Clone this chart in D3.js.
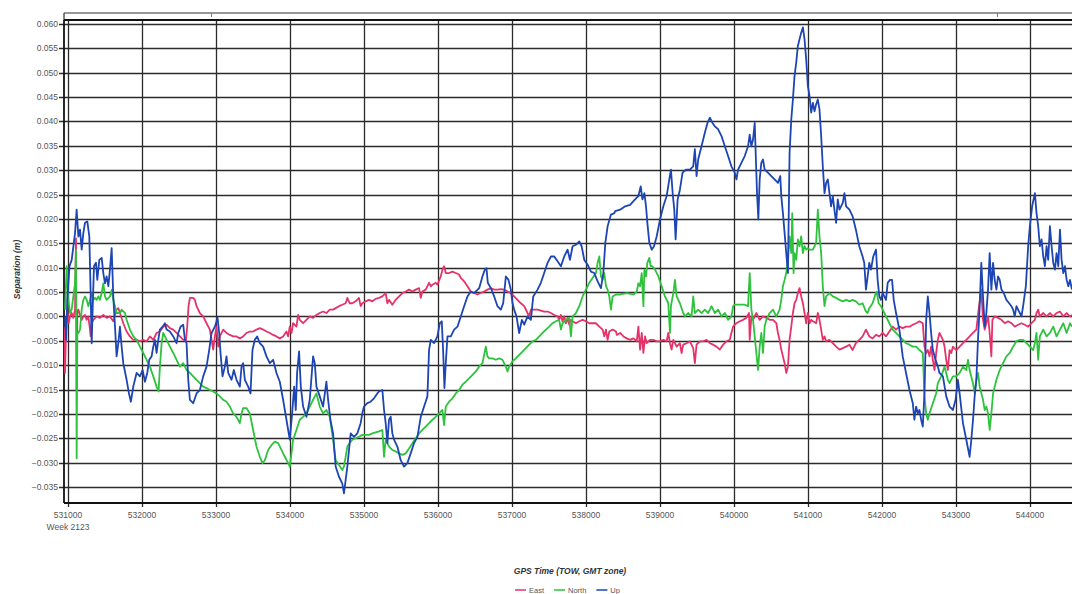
<!DOCTYPE html>
<html>
<head>
<meta charset="utf-8">
<script src="https://cdn.jsdelivr.net/npm/d3@7"></script>
<style>
  html, body { margin: 0; padding: 0; background: #ffffff; }
  svg { display: block; font-family: "Liberation Sans", Arial, sans-serif; }
</style>
</head>
<body>
<svg id="chart" width="1072" height="594"></svg>
<script>
// GPS baseline separation (m) over GPS time of week, week 2123

const xTickValues = [531000, 532000, 533000, 534000, 535000, 536000, 537000,
                     538000, 539000, 540000, 541000, 542000, 543000, 544000];
const yTickValues = [0.060, 0.055, 0.050, 0.045, 0.040, 0.035, 0.030, 0.025, 0.020,
                     0.015, 0.010, 0.005, 0.000, -0.005, -0.010, -0.015, -0.020,
                     -0.025, -0.030, -0.035];
const weekLabel = "Week 2123";
const xTitle = "GPS Time (TOW, GMT zone)";
const yTitle = "Separation (m)";
const seriesNames = ["East", "North", "Up"];

// [time of week (s), separation (m)]
const eastSeries = [
  [530946,-0.0021],[530960,-0.0116],[530973,-0.0034],[530991,0.0014],[531009,-0.0014],[531027,0.0000],[531050,0.0007],[531072,-0.0003],[531095,0.0014],[531108,0.0160],[531117,-0.0151],[531126,0.0007],[531140,0.0014],[531162,0.0003],[531185,-0.0007],[531207,0.0000],[531230,0.0003],[531252,-0.0007],[531275,0.0000],[531297,-0.0027],[531306,-0.0041],[531320,-0.0014],[531342,-0.0007],[531387,0.0000],[531432,-0.0003],[531477,0.0003],[531522,-0.0003],[531567,0.0000],[531612,-0.0010],[531657,0.0014],[531680,0.0017],[531702,0.0007],[531747,-0.0014],[531792,-0.0031],[531837,-0.0041],[531882,-0.0048],[531927,-0.0048],[531972,-0.0051],[532017,-0.0048],[532062,-0.0051],[532107,-0.0041],[532152,-0.0048],[532197,-0.0034],[532242,-0.0031],[532287,-0.0021],[532332,-0.0017],[532377,-0.0024],[532422,-0.0027],[532467,-0.0034],[532512,-0.0041],[532557,-0.0048],[532593,-0.0051],[532611,-0.0021],[532629,0.0021],[532647,0.0038],[532692,0.0038],[532715,0.0034],[532737,0.0021],[532782,0.0007],[532827,0.0000],[532872,-0.0014],[532917,-0.0027],[532940,-0.0048],[532962,-0.0068],[532985,-0.0041],[533007,-0.0021],[533030,-0.0062],[533052,-0.0041],[533097,-0.0027],[533142,-0.0034],[533187,-0.0038],[533232,-0.0041],[533277,-0.0041],[533322,-0.0045],[533367,-0.0041],[533412,-0.0034],[533457,-0.0031],[533502,-0.0031],[533547,-0.0027],[533592,-0.0024],[533637,-0.0027],[533682,-0.0031],[533727,-0.0034],[533772,-0.0038],[533817,-0.0041],[533862,-0.0045],[533907,-0.0041],[533952,-0.0031],[533975,-0.0041],[533997,-0.0021],[534020,-0.0034],[534042,-0.0014],[534087,-0.0021],[534110,0.0003],[534132,-0.0007],[534177,-0.0014],[534222,-0.0007],[534267,0.0000],[534312,-0.0003],[534357,0.0003],[534402,0.0007],[534447,0.0010],[534492,0.0007],[534537,0.0014],[534582,0.0014],
  [534617,0.0017],[534662,0.0021],[534707,0.0024],[534752,0.0027],[534775,0.0038],[534806,0.0027],[534842,0.0027],[534887,0.0031],[534932,0.0038],[534955,0.0021],[534977,0.0027],[535023,0.0031],[535068,0.0034],[535113,0.0031],[535158,0.0036],[535203,0.0038],[535248,0.0041],[535293,0.0048],[535316,0.0027],[535338,0.0034],[535383,0.0024],[535428,0.0034],[535474,0.0041],[535519,0.0048],[535564,0.0051],[535609,0.0055],[535654,0.0051],[535699,0.0055],[535744,0.0058],[535767,0.0038],[535789,0.0051],[535834,0.0055],[535879,0.0069],[535902,0.0062],[535925,0.0065],[535970,0.0069],[535992,0.0065],[536037,0.0082],[536060,0.0096],[536082,0.0103],[536105,0.0089],[536150,0.0089],[536195,0.0092],[536240,0.0089],[536285,0.0086],[536308,0.0079],[536353,0.0072],[536398,0.0062],[536443,0.0051],[536488,0.0048],[536533,0.0045],[536578,0.0048],[536624,0.0051],[536669,0.0055],[536714,0.0058],[536759,0.0055],[536804,0.0055],[536849,0.0056],[536894,0.0055],[536939,0.0051],[536984,0.0048],[537029,0.0041],[537074,0.0034],[537120,0.0027],[537165,0.0021],[537210,0.0007],[537232,0.0000],[537255,0.0014],[537300,0.0014],[537345,0.0014],[537390,0.0012],[537435,0.0010],[537481,0.0010],[537526,0.0007],[537571,0.0003],[537616,0.0000],[537638,-0.0007],[537661,0.0003],[537683,-0.0010],[537706,0.0000],[537729,-0.0014],[537751,-0.0003],[537774,-0.0017],[537796,-0.0007],[537819,-0.0010],[537864,-0.0014],[537909,-0.0010],[537954,-0.0007],[537999,-0.0010],[538044,-0.0014],[538089,-0.0014],[538134,-0.0014],[538180,-0.0021],[538225,-0.0027],[538247,-0.0041],[538270,-0.0027],[538292,-0.0048],[538315,-0.0031],[538360,-0.0027],[538405,-0.0031],
  [538417,-0.0038],[538461,-0.0034],[538506,-0.0041],[538551,-0.0045],[538596,-0.0048],[538641,-0.0045],[538686,-0.0051],[538708,-0.0021],[538731,-0.0068],[538753,-0.0034],[538776,-0.0075],[538798,-0.0041],[538820,-0.0055],[538865,-0.0048],[538910,-0.0048],[538955,-0.0051],[539000,-0.0051],[539045,-0.0048],[539090,-0.0051],[539112,-0.0034],[539135,-0.0055],[539157,-0.0068],[539180,-0.0048],[539225,-0.0062],[539269,-0.0055],[539292,-0.0075],[539314,-0.0058],[539359,-0.0055],[539404,-0.0051],[539449,-0.0065],[539471,-0.0096],[539494,-0.0058],[539539,-0.0051],[539584,-0.0051],[539629,-0.0048],[539674,-0.0055],[539718,-0.0058],[539763,-0.0062],[539808,-0.0068],[539853,-0.0058],[539898,-0.0051],[539943,-0.0048],[539965,-0.0034],[539988,-0.0021],[540033,-0.0014],[540078,-0.0010],[540123,-0.0007],[540167,-0.0003],[540203,0.0007],[540212,-0.0048],[540235,0.0000],[540257,-0.0007],[540302,0.0007],[540347,-0.0007],[540392,0.0000],[540437,-0.0003],[540482,-0.0007],[540527,-0.0007],[540572,-0.0014],[540594,-0.0034],[540616,-0.0048],[540639,-0.0068],[540661,-0.0082],[540684,-0.0096],[540706,-0.0116],[540729,-0.0103],[540751,-0.0048],[540774,-0.0021],[540796,0.0007],[540818,0.0027],[540841,0.0034],[540863,0.0048],[540886,0.0058],[540908,0.0041],[540931,0.0027],[540953,0.0007],[540976,-0.0014],[540998,0.0007],[541021,-0.0014],[541043,-0.0007],[541066,-0.0010],[541110,-0.0014],[541133,0.0007],[541155,-0.0007],[541178,-0.0027],[541200,-0.0048],[541223,-0.0041],[541245,-0.0051],[541290,-0.0048],[541335,-0.0055],[541380,-0.0062],[541425,-0.0068],[541470,-0.0065],[541515,-0.0062],[541560,-0.0058],
  [541602,-0.0069],[541647,-0.0055],[541693,-0.0048],[541738,-0.0041],[541783,-0.0027],[541806,-0.0034],[541828,-0.0041],[541873,-0.0045],[541919,-0.0038],[541964,-0.0041],[542009,-0.0034],[542054,-0.0041],[542099,-0.0031],[542145,-0.0021],[542190,-0.0027],[542235,-0.0021],[542280,-0.0024],[542325,-0.0021],[542371,-0.0021],[542416,-0.0017],[542461,-0.0014],[542506,-0.0010],[542551,-0.0014],[542574,-0.0062],[542597,-0.0075],[542619,-0.0069],[542642,-0.0082],[542664,-0.0062],[542687,-0.0089],[542710,-0.0110],[542732,-0.0075],[542755,-0.0048],[542777,-0.0034],[542800,-0.0041],[542823,-0.0048],[542845,-0.0062],[542868,-0.0089],[542890,-0.0110],[542913,-0.0069],[542936,-0.0075],[542958,-0.0062],[543003,-0.0069],[543049,-0.0062],[543094,-0.0055],[543139,-0.0048],[543184,-0.0041],[543229,-0.0034],[543275,-0.0027],[543311,0.0021],[543342,0.0055],[543365,-0.0007],[543388,-0.0027],[543410,-0.0014],[543433,0.0000],[543455,-0.0034],[543478,-0.0082],[543492,-0.0007],[543523,0.0000],[543568,-0.0003],[543614,-0.0007],[543659,-0.0014],[543704,-0.0010],[543749,-0.0014],[543794,-0.0021],[543839,-0.0017],[543885,-0.0014],[543930,-0.0017],[543975,-0.0021],[544020,-0.0014],[544066,-0.0007],[544088,0.0007],[544111,0.0014],[544133,0.0000],[544179,0.0007],[544224,0.0000],[544269,0.0007],[544314,0.0000],[544359,0.0007],[544405,0.0010],[544450,0.0000],[544495,0.0007],[544540,0.0000],[544567,0.0003]
];

const northSeries = [
  [530960,0.0014],[530982,0.0103],[531005,0.0034],[531027,0.0007],[531050,0.0014],[531072,0.0041],[531095,0.0068],[531108,0.0137],[531117,-0.0291],[531126,-0.0034],[531140,-0.0034],[531162,-0.0027],[531185,0.0014],[531207,0.0034],[531230,0.0041],[531252,0.0034],[531275,0.0021],[531297,0.0034],[531320,0.0048],[531342,0.0034],[531365,0.0038],[531387,0.0034],[531410,0.0041],[531432,0.0034],[531455,0.0048],[531477,0.0068],[531500,0.0041],[531522,0.0034],[531567,0.0041],[531590,0.0055],[531612,0.0034],[531635,0.0021],[531657,0.0007],[531702,0.0007],[531725,0.0014],[531770,0.0007],[531792,-0.0007],[531837,-0.0027],[531882,-0.0041],[531927,-0.0048],[531972,-0.0062],[532017,-0.0075],[532062,-0.0089],[532107,-0.0103],[532152,-0.0123],[532197,-0.0144],[532224,-0.0154],[532242,-0.0103],[532265,-0.0055],[532287,-0.0034],[532332,-0.0048],[532377,-0.0062],[532422,-0.0075],[532467,-0.0089],[532512,-0.0103],[532557,-0.0096],[532602,-0.0110],[532647,-0.0116],[532692,-0.0123],[532737,-0.0130],[532782,-0.0137],[532827,-0.0144],[532872,-0.0147],[532917,-0.0151],[532962,-0.0154],[533007,-0.0158],[533052,-0.0164],[533097,-0.0171],[533142,-0.0175],[533187,-0.0185],[533232,-0.0199],[533277,-0.0206],[533322,-0.0219],[533345,-0.0199],[533367,-0.0188],[533412,-0.0188],[533457,-0.0199],[533502,-0.0233],[533547,-0.0267],[533592,-0.0288],[533628,-0.0301],[533660,-0.0295],[533705,-0.0274],[533750,-0.0264],[533795,-0.0257],[533840,-0.0260],[533885,-0.0274],[533930,-0.0288],[533975,-0.0301],[533997,-0.0308],[534020,-0.0281],[534042,-0.0253],[534087,-0.0233],[534132,-0.0212],[534177,-0.0206],[534222,-0.0199],[534267,-0.0185],[534312,-0.0171],[534357,-0.0158],[534402,-0.0185],[534447,-0.0199],[534492,-0.0192],[534537,-0.0206],[534582,-0.0253],
  [534617,-0.0295],[534662,-0.0305],[534707,-0.0315],[534729,-0.0308],[534752,-0.0288],[534775,-0.0267],[534806,-0.0260],[534842,-0.0253],[534887,-0.0250],[534932,-0.0247],[534977,-0.0243],[535023,-0.0243],[535068,-0.0243],[535113,-0.0240],[535158,-0.0238],[535203,-0.0236],[535248,-0.0233],[535271,-0.0288],[535293,-0.0253],[535338,-0.0267],[535383,-0.0274],[535428,-0.0277],[535474,-0.0281],[535519,-0.0284],[535564,-0.0281],[535609,-0.0271],[535654,-0.0260],[535699,-0.0250],[535744,-0.0240],[535789,-0.0233],[535834,-0.0226],[535879,-0.0219],[535925,-0.0212],[535970,-0.0206],[536015,-0.0199],[536060,-0.0192],[536082,-0.0223],[536105,-0.0185],[536150,-0.0175],[536195,-0.0168],[536240,-0.0158],[536285,-0.0151],[536330,-0.0140],[536376,-0.0134],[536421,-0.0127],[536466,-0.0120],[536511,-0.0113],[536556,-0.0103],[536601,-0.0096],[536646,-0.0062],[536669,-0.0082],[536691,-0.0086],[536736,-0.0086],[536781,-0.0089],[536827,-0.0086],[536872,-0.0089],[536917,-0.0103],[536939,-0.0113],[536962,-0.0103],[537007,-0.0092],[537052,-0.0086],[537097,-0.0079],[537142,-0.0072],[537187,-0.0065],[537232,-0.0058],[537278,-0.0051],[537323,-0.0048],[537368,-0.0041],[537413,-0.0034],[537458,-0.0027],[537503,-0.0021],[537548,-0.0014],[537593,-0.0010],[537638,-0.0007],[537661,-0.0027],[537683,-0.0014],[537729,-0.0007],[537774,-0.0003],[537796,-0.0041],[537819,0.0000],[537864,0.0007],[537909,0.0021],[537954,0.0041],[537999,0.0055],[538044,0.0069],[538089,0.0079],[538134,0.0089],[538157,0.0110],[538180,0.0123],[538202,0.0082],[538225,0.0075],[538247,0.0089],[538270,0.0062],[538292,0.0055],[538315,0.0041],[538337,0.0014],[538360,0.0041],[538405,0.0045],
  [538461,0.0045],[538551,0.0048],[538641,0.0045],[538686,0.0051],[538708,0.0068],[538731,0.0062],[538753,0.0089],[538776,0.0021],[538789,0.0096],[538811,0.0082],[538829,0.0110],[538856,0.0120],[538874,0.0103],[538897,0.0103],[538933,0.0096],[538978,0.0082],[539022,0.0062],[539067,0.0041],[539112,0.0027],[539135,-0.0034],[539148,0.0021],[539180,0.0048],[539202,0.0075],[539225,0.0041],[539269,0.0027],[539314,0.0007],[539337,0.0000],[539382,0.0007],[539427,0.0000],[539449,0.0041],[539471,0.0007],[539516,0.0014],[539561,0.0007],[539606,0.0014],[539651,0.0007],[539696,0.0021],[539741,0.0007],[539786,0.0014],[539831,0.0000],[539876,0.0007],[539920,-0.0007],[539965,0.0000],[539988,0.0021],[540010,0.0024],[540055,0.0024],[540100,0.0024],[540145,0.0024],[540190,0.0021],[540212,0.0089],[540235,0.0014],[540257,-0.0007],[540280,-0.0041],[540302,-0.0075],[540325,-0.0110],[540347,-0.0062],[540369,-0.0034],[540392,-0.0075],[540414,-0.0021],[540437,-0.0007],[540482,0.0007],[540527,0.0014],[540572,0.0000],[540616,0.0014],[540639,0.0034],[540661,0.0062],[540684,0.0075],[540706,0.0089],[540729,0.0116],[540751,0.0164],[540774,0.0130],[540787,0.0212],[540805,0.0089],[540818,0.0130],[540841,0.0116],[540863,0.0158],[540886,0.0144],[540908,0.0164],[540931,0.0130],[540953,0.0144],[540976,0.0137],[540998,0.0140],[541021,0.0137],[541066,0.0137],[541110,0.0151],[541133,0.0219],[541155,0.0164],[541178,0.0130],[541200,0.0062],[541223,0.0021],[541245,0.0041],[541290,0.0048],[541335,0.0041],[541380,0.0038],[541425,0.0034],[541470,0.0031],[541515,0.0034],[541560,0.0031],
  [541602,0.0034],[541647,0.0031],[541693,0.0024],[541738,0.0027],[541783,0.0010],[541806,0.0007],[541828,0.0017],[541873,0.0027],[541910,0.0045],[541928,0.0051],[541955,0.0027],[541986,0.0021],[542009,0.0014],[542054,0.0000],[542099,-0.0014],[542145,-0.0027],[542190,-0.0034],[542235,-0.0041],[542280,-0.0048],[542325,-0.0055],[542371,-0.0058],[542416,-0.0062],[542461,-0.0062],[542506,-0.0069],[542551,-0.0075],[542574,-0.0164],[542597,-0.0199],[542619,-0.0212],[542642,-0.0199],[542687,-0.0178],[542732,-0.0158],[542755,-0.0137],[542800,-0.0123],[542845,-0.0103],[542868,-0.0116],[542890,-0.0130],[542913,-0.0137],[542958,-0.0123],[543003,-0.0123],[543049,-0.0116],[543094,-0.0103],[543139,-0.0110],[543162,-0.0089],[543184,-0.0110],[543229,-0.0137],[543252,-0.0158],[543275,-0.0130],[543297,-0.0116],[543320,-0.0144],[543365,-0.0171],[543388,-0.0192],[543410,-0.0185],[543433,-0.0199],[543455,-0.0233],[543478,-0.0199],[543501,-0.0158],[543523,-0.0144],[543546,-0.0130],[543591,-0.0110],[543636,-0.0096],[543681,-0.0082],[543727,-0.0075],[543772,-0.0062],[543817,-0.0051],[543862,-0.0048],[543907,-0.0048],[543953,-0.0055],[543998,-0.0062],[544043,-0.0069],[544066,-0.0055],[544088,-0.0034],[544111,-0.0089],[544133,-0.0041],[544179,-0.0027],[544224,-0.0041],[544269,-0.0034],[544314,-0.0021],[544359,-0.0041],[544405,-0.0027],[544450,-0.0014],[544495,-0.0034],[544540,-0.0014],[544567,-0.0021]
];

const upSeries = [
  [530960,0.0000],[530975,-0.0048],[530990,0.0034],[531020,0.0103],[531050,0.0116],[531095,0.0171],[531117,0.0219],[531140,0.0164],[531162,0.0178],[531185,0.0137],[531207,0.0171],[531230,0.0192],[531261,0.0195],[531288,0.0164],[531306,0.0048],[531320,-0.0055],[531333,0.0014],[531351,0.0103],[531378,0.0110],[531396,0.0075],[531423,0.0116],[531455,0.0120],[531477,0.0089],[531500,0.0068],[531522,0.0082],[531545,0.0062],[531567,0.0096],[531590,0.0140],[531612,0.0041],[531635,-0.0021],[531657,-0.0082],[531680,-0.0055],[531702,-0.0021],[531725,-0.0062],[531747,-0.0096],[531792,-0.0130],[531824,-0.0158],[531850,-0.0175],[531882,-0.0144],[531927,-0.0116],[531972,-0.0123],[532008,-0.0110],[532040,-0.0134],[532071,-0.0116],[532098,-0.0089],[532130,-0.0082],[532152,-0.0062],[532175,-0.0048],[532197,-0.0075],[532220,-0.0048],[532242,-0.0027],[532278,-0.0021],[532310,-0.0014],[532332,-0.0027],[532377,-0.0031],[532422,-0.0041],[532467,-0.0055],[532490,-0.0034],[532521,-0.0021],[532557,-0.0017],[532580,-0.0048],[532602,-0.0055],[532625,-0.0130],[532647,-0.0171],[532692,-0.0178],[532737,-0.0158],[532782,-0.0151],[532827,-0.0123],[532872,-0.0103],[532908,-0.0069],[532940,-0.0034],[532985,-0.0021],[533021,-0.0003],[533043,-0.0034],[533061,-0.0075],[533088,-0.0123],[533120,-0.0103],[533142,-0.0082],[533165,-0.0116],[533210,-0.0130],[533241,-0.0110],[533277,-0.0130],[533322,-0.0144],[533345,-0.0103],[533367,-0.0096],[533390,-0.0130],[533435,-0.0144],[533466,-0.0158],[533493,-0.0069],[533525,-0.0048],[533556,-0.0041],[533592,-0.0055],[533637,-0.0062],[533682,-0.0082],[533727,-0.0096],[533772,-0.0089],[533817,-0.0116],[533862,-0.0134],[533907,-0.0171],[533952,-0.0212],[533997,-0.0253],[534029,-0.0199],[534056,-0.0144],[534078,-0.0192],[534096,-0.0116],[534123,-0.0072],[534146,-0.0144],[534177,-0.0185],[534222,-0.0206],[534267,-0.0171],[534312,-0.0082],[534335,-0.0096],[534357,-0.0144],[534402,-0.0164],[534447,-0.0185],[534492,-0.0134],[534515,-0.0171],[534546,-0.0212],[534582,-0.0240],
  [534617,-0.0308],[534662,-0.0329],[534707,-0.0343],[534729,-0.0363],[534775,-0.0308],[534820,-0.0240],[534865,-0.0247],[534910,-0.0240],[534955,-0.0219],[534977,-0.0199],[535000,-0.0185],[535045,-0.0178],[535090,-0.0175],[535135,-0.0168],[535180,-0.0158],[535203,-0.0154],[535248,-0.0151],[535271,-0.0192],[535293,-0.0219],[535316,-0.0260],[535338,-0.0212],[535361,-0.0206],[535383,-0.0240],[535406,-0.0253],[535451,-0.0267],[535496,-0.0295],[535541,-0.0308],[535586,-0.0301],[535631,-0.0281],[535676,-0.0260],[535722,-0.0247],[535767,-0.0206],[535812,-0.0185],[535857,-0.0164],[535879,-0.0069],[535902,-0.0048],[535947,-0.0055],[535992,-0.0041],[536024,-0.0014],[536051,-0.0010],[536069,-0.0069],[536087,-0.0147],[536105,-0.0096],[536128,-0.0041],[536173,-0.0041],[536218,-0.0027],[536263,-0.0021],[536308,0.0000],[536353,0.0021],[536398,0.0041],[536443,0.0051],[536488,0.0048],[536556,0.0058],[536601,0.0082],[536633,0.0096],[536655,0.0099],[536673,0.0069],[536714,0.0058],[536759,0.0041],[536804,0.0021],[536849,0.0014],[536881,0.0027],[536917,0.0082],[536953,0.0075],[536984,0.0055],[537007,0.0027],[537029,0.0014],[537061,0.0000],[537097,-0.0034],[537133,-0.0007],[537165,-0.0017],[537210,0.0000],[537255,-0.0007],[537287,0.0041],[537345,0.0055],[537390,0.0069],[537435,0.0089],[537481,0.0110],[537526,0.0123],[537571,0.0123],[537616,0.0113],[537661,0.0103],[537706,0.0123],[537751,0.0137],[537783,0.0116],[537819,0.0144],[537864,0.0147],[537909,0.0154],[537941,0.0144],[537977,0.0116],[538022,0.0106],[538067,0.0092],[538112,0.0089],[538157,0.0072],[538202,0.0058],[538234,0.0089],[538261,0.0151],[538292,0.0185],[538337,0.0209],[538383,0.0212],
  [538394,0.0216],[538461,0.0219],[538529,0.0226],[538596,0.0229],[538663,0.0240],[538708,0.0247],[538740,0.0267],[538762,0.0240],[538789,0.0253],[538811,0.0226],[538829,0.0192],[538856,0.0151],[538888,0.0137],[538919,0.0144],[538955,0.0164],[539000,0.0199],[539045,0.0226],[539090,0.0247],[539126,0.0281],[539148,0.0301],[539171,0.0253],[539193,0.0219],[539211,0.0158],[539238,0.0240],[539269,0.0260],[539305,0.0295],[539350,0.0301],[539404,0.0301],[539449,0.0308],[539471,0.0343],[539494,0.0288],[539516,0.0322],[539561,0.0349],[539606,0.0377],[539642,0.0397],[539674,0.0408],[539709,0.0397],[539741,0.0390],[539786,0.0384],[539831,0.0370],[539876,0.0349],[539920,0.0329],[539965,0.0308],[540010,0.0295],[540033,0.0281],[540055,0.0301],[540100,0.0315],[540145,0.0329],[540190,0.0349],[540212,0.0373],[540235,0.0349],[540257,0.0363],[540280,0.0397],[540293,0.0336],[540311,0.0253],[540329,0.0199],[540347,0.0281],[540369,0.0315],[540392,0.0322],[540414,0.0301],[540459,0.0295],[540504,0.0288],[540549,0.0281],[540594,0.0274],[540625,0.0288],[540639,0.0247],[540661,0.0212],[540684,0.0171],[540706,0.0130],[540729,0.0089],[540751,0.0336],[540774,0.0404],[540796,0.0445],[540818,0.0493],[540841,0.0521],[540863,0.0555],[540886,0.0569],[540908,0.0582],[540931,0.0593],[540953,0.0569],[540976,0.0527],[540998,0.0473],[541021,0.0452],[541043,0.0418],[541066,0.0438],[541088,0.0421],[541110,0.0435],[541133,0.0445],[541155,0.0425],[541178,0.0370],[541200,0.0308],[541223,0.0253],[541245,0.0274],[541268,0.0281],[541290,0.0253],[541312,0.0226],[541335,0.0247],[541357,0.0219],[541380,0.0192],[541402,0.0240],[541425,0.0219],[541470,0.0233],[541492,0.0253],[541515,0.0226],[541560,0.0219],
  [541602,0.0206],[541647,0.0178],[541693,0.0144],[541738,0.0123],[541760,0.0110],[541783,0.0055],[541806,0.0082],[541828,0.0110],[541851,0.0096],[541882,0.0123],[541919,0.0137],[541941,0.0075],[541964,0.0041],[541986,0.0034],[542009,0.0048],[542054,0.0034],[542077,0.0069],[542108,0.0075],[542136,0.0075],[542158,0.0034],[542190,0.0007],[542235,-0.0027],[542280,-0.0082],[542325,-0.0116],[542371,-0.0151],[542416,-0.0178],[542438,-0.0212],[542461,-0.0185],[542484,-0.0199],[542506,-0.0192],[542529,-0.0212],[542551,-0.0226],[542574,-0.0158],[542597,-0.0007],[542619,0.0041],[542642,0.0007],[542664,-0.0034],[542687,-0.0069],[542723,-0.0089],[542755,-0.0103],[542777,-0.0116],[542823,-0.0123],[542868,-0.0164],[542913,-0.0185],[542958,-0.0192],[542994,-0.0171],[543026,-0.0130],[543049,-0.0158],[543094,-0.0219],[543139,-0.0253],[543184,-0.0288],[543207,-0.0253],[543230,-0.0212],[543252,-0.0164],[543275,-0.0130],[543297,-0.0048],[543320,0.0021],[543342,0.0110],[543365,0.0041],[543388,-0.0021],[543410,0.0007],[543433,0.0055],[543455,0.0130],[543478,0.0055],[543501,0.0110],[543523,0.0075],[543546,0.0055],[543568,0.0082],[543591,0.0075],[543614,0.0055],[543645,0.0048],[543681,0.0034],[543718,0.0027],[543749,0.0021],[543772,0.0014],[543794,0.0000],[543817,0.0021],[543839,0.0014],[543862,0.0007],[543885,0.0000],[543907,0.0021],[543944,0.0062],[543975,0.0144],[543998,0.0185],[544029,0.0226],[544066,0.0253],[544088,0.0212],[544111,0.0185],[544133,0.0144],[544156,0.0158],[544179,0.0123],[544201,0.0103],[544224,0.0144],[544246,0.0116],[544269,0.0185],[544292,0.0144],[544314,0.0110],[544337,0.0096],[544359,0.0130],[544382,0.0103],[544405,0.0178],[544427,0.0116],[544450,0.0089],[544472,0.0103],[544495,0.0075],[544518,0.0062],[544540,0.0075],[544567,0.0055]
];

const seriesColors = ["#e5336a", "#2ec23d", "#1d45b3"];

// ---- layout ----
const W = 1072, H = 594;
const plot = { left: 64, top: 20, right: 1072, bottom: 503 };

const svg = d3.select("#chart");

const x = d3.scaleLinear().domain([531000, 544000]).range([68, 1030]);
const y = d3.scaleLinear().domain([-0.035, 0.060]).range([487, 24]);

// clip for the data lines
svg.append("defs").append("clipPath").attr("id", "plotClip")
  .append("rect")
  .attr("x", plot.left).attr("y", plot.top)
  .attr("width", plot.right - plot.left).attr("height", plot.bottom - plot.top);

// outer thin frame line above the plot
svg.append("line")
  .attr("x1", plot.left).attr("x2", W)
  .attr("y1", plot.top - 7).attr("y2", plot.top - 7)
  .attr("stroke", "#333").attr("stroke-width", 1.2);
svg.append("line")
  .attr("x1", plot.left).attr("x2", plot.left)
  .attr("y1", plot.top - 7).attr("y2", plot.top)
  .attr("stroke", "#333").attr("stroke-width", 1.2);
// small scroll markers on that frame
[532940, 543560].forEach(t => {
  svg.append("line")
    .attr("x1", x(t)).attr("x2", x(t))
    .attr("y1", plot.top - 7).attr("y2", plot.top - 3)
    .attr("stroke", "#777").attr("stroke-width", 1);
});

// horizontal grid + y ticks
const gy = svg.append("g");
gy.selectAll("line.hg").data(yTickValues).enter().append("line")
  .attr("class", "hg")
  .attr("x1", plot.left - 5).attr("x2", W)
  .attr("y1", d => Math.round(y(d)) + 0.5).attr("y2", d => Math.round(y(d)) + 0.5)
  .attr("stroke", "#2b2b2b").attr("stroke-width", 1.3);
gy.selectAll("text").data(yTickValues).enter().append("text")
  .attr("x", plot.left - 6)
  .attr("y", d => y(d) + 3)
  .attr("text-anchor", "end")
  .attr("font-size", 8.5)
  .attr("fill", "#555")
  .text(d => d3.format(".3f")(d));

// vertical grid + x ticks
const gx = svg.append("g");
gx.selectAll("line.vg").data(xTickValues).enter().append("line")
  .attr("class", "vg")
  .attr("x1", d => Math.round(x(d)) + 0.5).attr("x2", d => Math.round(x(d)) + 0.5)
  .attr("y1", plot.top).attr("y2", plot.bottom + 4)
  .attr("stroke", "#2b2b2b").attr("stroke-width", 1.3);
gx.selectAll("text").data(xTickValues).enter().append("text")
  .attr("x", d => x(d))
  .attr("y", plot.bottom + 15)
  .attr("text-anchor", "middle")
  .attr("font-size", 8.5)
  .attr("fill", "#555")
  .text(d => d3.format("d")(d));
svg.append("text")
  .attr("x", x(xTickValues[0]))
  .attr("y", plot.bottom + 27)
  .attr("text-anchor", "middle")
  .attr("font-size", 8.5)
  .attr("fill", "#555")
  .text(weekLabel);

// plot border
svg.append("line").attr("x1", plot.left).attr("x2", W)
  .attr("y1", plot.top).attr("y2", plot.top)
  .attr("stroke", "#111").attr("stroke-width", 2.2);
svg.append("line").attr("x1", plot.left).attr("x2", W)
  .attr("y1", plot.bottom).attr("y2", plot.bottom)
  .attr("stroke", "#111").attr("stroke-width", 1.8);
svg.append("line").attr("x1", plot.left).attr("x2", plot.left)
  .attr("y1", plot.top).attr("y2", plot.bottom)
  .attr("stroke", "#111").attr("stroke-width", 1.8);

// data lines
const line = d3.line().x(d => x(d[0])).y(d => y(d[1]));
const allSeries = [eastSeries, northSeries, upSeries];
const gl = svg.append("g").attr("clip-path", "url(#plotClip)");
allSeries.forEach((s, i) => {
  gl.append("path")
    .datum(s)
    .attr("fill", "none")
    .attr("stroke", seriesColors[i])
    .attr("stroke-width", 1.8)
    .attr("stroke-linejoin", "round")
    .attr("d", line);
});

// axis titles
svg.append("text")
  .attr("transform", `translate(20,${(plot.top + plot.bottom) / 2 + 8}) rotate(-90)`)
  .attr("text-anchor", "middle")
  .attr("font-size", 8.5)
  .attr("font-weight", "bold")
  .attr("font-style", "italic")
  .attr("fill", "#333")
  .text(yTitle);

svg.append("text")
  .attr("x", 570)
  .attr("y", 574)
  .attr("text-anchor", "middle")
  .attr("font-size", 8.5)
  .attr("font-weight", "bold")
  .attr("font-style", "italic")
  .attr("fill", "#333")
  .text(xTitle);

// legend
const legend = svg.append("g").attr("transform", "translate(515,590)");
let lx = 0;
seriesNames.forEach((name, i) => {
  const g = legend.append("g").attr("transform", `translate(${lx},0)`);
  g.append("line").attr("x1", 0).attr("x2", 11).attr("y1", 0).attr("y2", 0)
    .attr("stroke", seriesColors[i]).attr("stroke-width", 1.5);
  const t = g.append("text").attr("x", 14).attr("y", 3)
    .attr("font-size", 7.5).attr("fill", "#555").text(name);
  lx += 14 + t.node().getComputedTextLength() + 10;
});
</script>
</body>
</html>
